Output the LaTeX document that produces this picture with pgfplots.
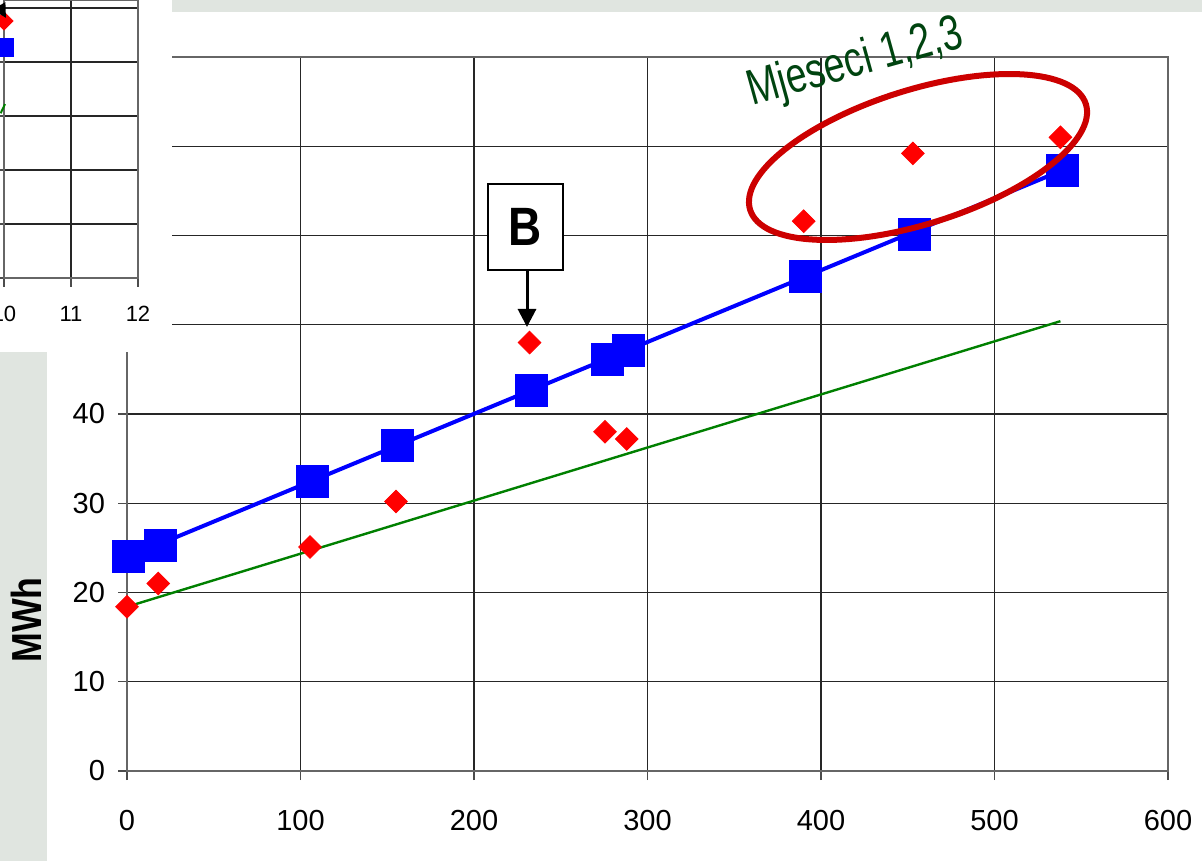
\documentclass[border=0pt]{standalone}
\usepackage{fontspec}
\setmainfont{Liberation Sans}
\newfontfamily\narrowbold[FakeStretch=0.85]{Liberation Sans}
\newfontfamily\narrowfont[FakeStretch=0.75]{Liberation Sans}
\usepackage{pgfplots}
\pgfplotsset{compat=1.18}
\usetikzlibrary{arrows.meta}
\definecolor{band}{RGB}{224,229,224}
\definecolor{ellred}{RGB}{204,0,0}
\definecolor{dgreen}{RGB}{0,68,16}
\definecolor{lgreen}{RGB}{0,128,0}
\begin{document}
\begin{tikzpicture}
\useasboundingbox (0,0) rectangle (601pt,430.5pt);
\clip (0,0) rectangle (601pt,430.5pt);
\fill[white] (0,0) rectangle (601pt,430.5pt);
\begin{axis}[
  at={(63.5pt,45pt)}, anchor=south west, scale only axis,
  width=520.5pt, height=357pt,
  xmin=0, xmax=600, ymin=0, ymax=80,
  xtick={0,100,...,600}, ytick={0,10,...,80},
  grid=major, major grid style={black!85, line width=0.7pt},
  axis line style={black!60, line width=0.8pt},
  tick pos=left, tick align=outside, major tick length=4.5pt,
  tick style={black!70, line width=0.7pt},
  tick label style={font=\fontsize{14.5}{16}\selectfont},
  /pgf/number format/assume math mode=true,
  xticklabel style={yshift=-11.5pt},
  yticklabel style={xshift=-3pt},
  clip=false,
]
\addplot[lgreen, line width=1.2pt] coordinates {(0,18.4) (538,50.4)};
\addplot[blue, line width=2pt] coordinates {(1,24.0) (539,67.3)};
\addplot[only marks, mark=square*, mark size=8pt, color=blue] coordinates {
(1,24.0) (19,25.3) (106.6,32.5) (156,36.5) (233,42.6) (277,46.1) (289,47.1) (391,55.4) (453.6,60.1) (539,67.3)};
\addplot[only marks, mark=square*, mark size=4pt, color=red, mark options={rotate=45}] coordinates {
(0,18.4) (18,21.0) (105.5,25.1) (155,30.2) (232,48.0) (275.5,38.0) (288,37.2) (390,61.6) (453,69.2) (538,71.0)};
\end{axis}
% annotations
\draw[ellred, line width=3pt, rotate around={17.5:(459pt,352pt)}] (459pt,352pt) ellipse [x radius=88pt, y radius=33.5pt];
\node[rotate=15.5, anchor=base, inner sep=0pt, text=dgreen, font=\narrowfont\fontsize{25}{27}\selectfont] at (429.5pt,392.5pt) {Mjeseci 1,2,3};
\node[draw=black, line width=1pt, fill=white, minimum width=37.5pt, minimum height=43pt, inner sep=0pt, font=\narrowbold\bfseries\fontsize{27}{30}\selectfont] at (262.75pt,317pt) {B};
\draw[line width=1.5pt, -{Triangle[length=9pt,width=9pt]}] (263.5pt,295.5pt) -- (263.5pt,267pt);
% overlays from the neighbouring slide pictures
\fill[white] (0,254.5pt) rectangle (86pt,430.5pt);
\fill[band] (0,0) rectangle (23.5pt,254.5pt);
\fill[band] (86pt,424.5pt) rectangle (601pt,430.5pt);
\begin{axis}[
  at={(2pt,291.5pt)}, anchor=south west, scale only axis,
  width=67pt, height=139pt,
  xmin=10, xmax=12, ymin=0, ymax=5.148,
  xtick={10,11,12}, ytick={0,1,...,5}, yticklabels={},
  grid=major, major grid style={black!85, line width=0.7pt},
  axis line style={black!60, line width=0.8pt},
  tick pos=left, tick align=outside, major tick length=4.5pt,
  tick style={black!70, line width=0.7pt},
  tick label style={font=\fontsize{11}{13}\selectfont},
  /pgf/number format/assume math mode=true,
  xticklabel style={yshift=-6pt},
  clip=false,
]
\addplot[lgreen, line width=1pt] coordinates {(9.95,3.05) (10.015,3.22)};
\addplot[only marks, mark=square*, mark size=4.5pt, color=blue] coordinates {(10,4.27)};
\addplot[only marks, mark=square*, mark size=3.2pt, color=red, mark options={rotate=45}] coordinates {(10,4.76)};
\end{axis}
\draw[line width=1.5pt, -{Triangle[length=7pt,width=7pt]}] (-6pt,437pt) -- (3pt,421.5pt);
\node[rotate=90, font=\narrowbold\bfseries\fontsize{21}{24}\selectfont] at (13pt,120.5pt) {MWh};
\end{tikzpicture}
\end{document}
